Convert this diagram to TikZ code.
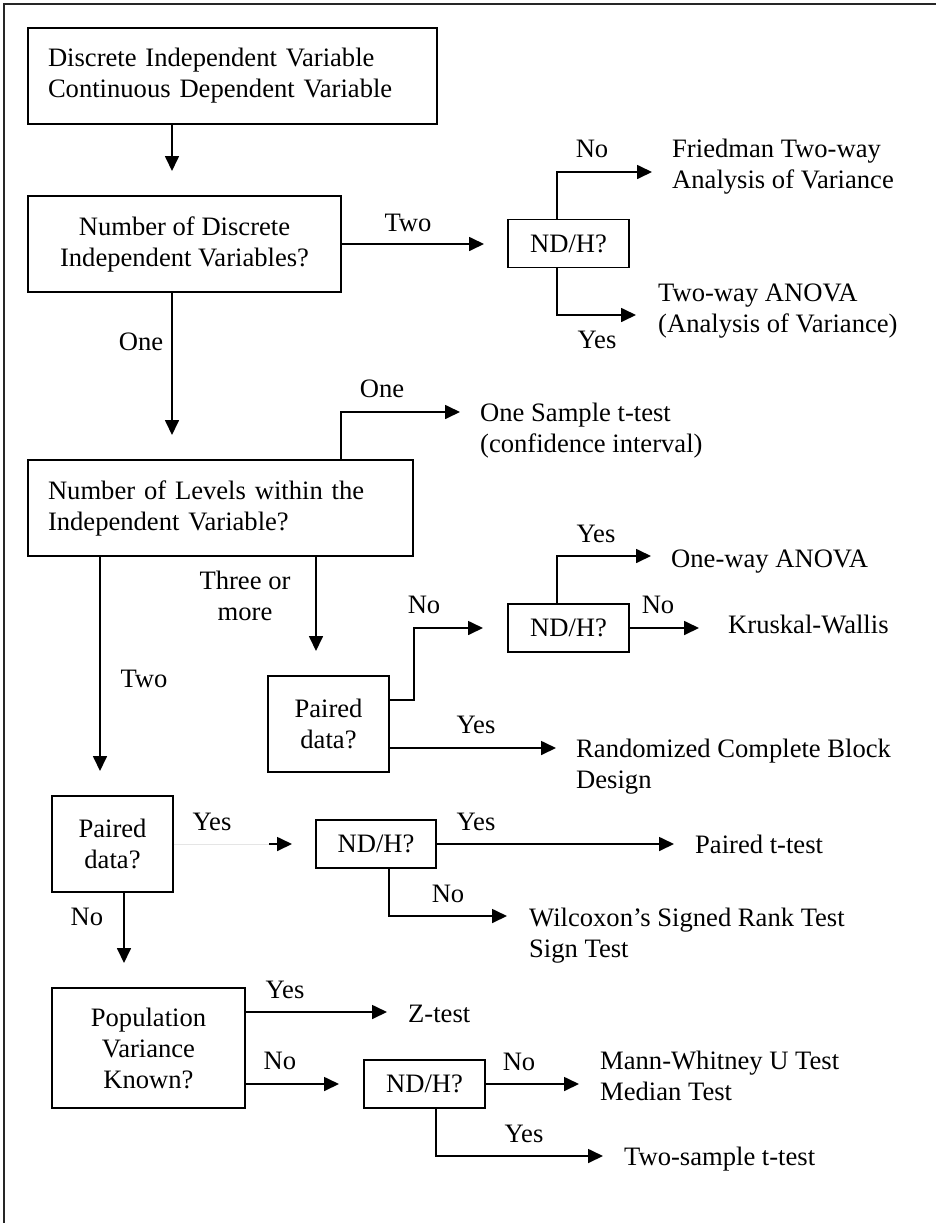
\documentclass[tikz,border=0pt]{standalone}
\usepackage{fontspec}
\setmainfont{Liberation Serif}
\usetikzlibrary{arrows.meta}

\begin{document}
\begin{tikzpicture}[
    x=1pt, y=-1pt,
    every node/.style={font=\fontsize{26.6pt}{31pt}\selectfont, inner sep=0pt},
    box/.style={draw, line width=1.8pt, align=center},
    leftbox/.style={draw, line width=1.8pt, align=left, inner xsep=20pt},
    ndh/.style={draw, line width=1.8pt, minimum width=121pt, minimum height=48pt},
    % multi-line texts are placed by the baseline of their last line
    result/.style={anchor=base west, align=left},
    lbl/.style={anchor=base, align=center},
    arr/.style={line width=1.7pt, -{Triangle[length=15pt,width=14pt]}},
    faint/.style={line width=0.8pt, draw=black!10},
  ]
  \useasboundingbox (0,0) rectangle (936,1223);

  % frame (top and left edges only)
  \draw[line width=2pt, black!85] (4,1223) -- (4,4) -- (936,4);

  % decision boxes
  \node[leftbox, text width=369pt, minimum height=96pt] (start) at (232.5,76)
    {Discrete Independent Variable\\Continuous Dependent Variable};
  \node[box, minimum width=313pt, minimum height=96pt] (q1) at (184.5,244)
    {Number of Discrete\\Independent Variables?};
  \node[ndh] (nd1) at (568.5,243.5) {ND/H?};
  \node[leftbox, text width=345pt, minimum height=96pt] (q2) at (220.5,508)
    {Number of Levels within the\\Independent Variable?};
  \node[box, minimum width=121pt, minimum height=96pt] (p1) at (328.5,724)
    {Paired\\data?};
  \node[ndh] (nd2) at (568.5,628) {ND/H?};
  \node[box, minimum width=121pt, minimum height=96pt] (p2) at (112.5,844)
    {Paired\\data?};
  \node[ndh, minimum width=120pt] (nd3) at (376,844) {ND/H?};
  \node[box, minimum width=193pt, minimum height=120pt] (pop) at (148.5,1048)
    {Population\\Variance\\Known?};
  \node[ndh] (nd4) at (424.5,1084) {ND/H?};

  % outcomes
  \node[result] (fried) at (672,188) {Friedman Two-way\\Analysis of Variance};
  \node[result] (anova2) at (658,332) {Two-way ANOVA\\(Analysis of Variance)};
  \node[result] (onet) at (480,452) {One Sample t-test\\(confidence interval)};
  \node[result] (anova1) at (671,567) {One-way ANOVA};
  \node[result] (kw) at (728,633) {Kruskal-Wallis};
  \node[result] (rcbd) at (576,788) {Randomized Complete Block\\Design};
  \node[result] (pairedt) at (695,853) {Paired t-test};
  \node[result] (wsr) at (529,957) {Wilcoxon’s Signed Rank Test\\Sign Test};
  \node[result] (ztest) at (408,1022) {Z-test};
  \node[result] (mw) at (600,1100) {Mann-Whitney U Test\\Median Test};
  \node[result] (twot) at (624,1165) {Two-sample t-test};

  % arrow tips and bends
  \coordinate (tQ1) at (172,171);
  \coordinate (tNd1) at (484,244);
  \coordinate (tFried) at (652,172);
  \coordinate (tAnova2) at (636,315);
  \coordinate (tQ2) at (172,435);
  \coordinate (tOneT) at (460,412);
  \coordinate (tP1) at (316,651);
  \coordinate (tP2) at (100,771);
  \coordinate (tNd2) at (483,628);
  \coordinate (tAnova1) at (651,556);
  \coordinate (tKW) at (699,628);
  \coordinate (tRCBD) at (556,748);
  \coordinate (fadeEnd) at (269,844);
  \coordinate (tNd3) at (292,844);
  \coordinate (tPairedT) at (674,844);
  \coordinate (tWSR) at (507,916);
  \coordinate (tPop) at (124,963);
  \coordinate (tZ) at (387,1012);
  \coordinate (tNd4) at (339,1084);
  \coordinate (tMW) at (579,1084);
  \coordinate (tTwoT) at (603,1156);

  % connectors
  \draw[arr] (start.south -| tQ1) -- (tQ1);
  \draw[arr] (q1.east) -- (tNd1);
  \draw[arr] ([xshift=-11.5pt]nd1.north) |- (tFried);
  \draw[arr] ([xshift=-11.5pt]nd1.south) |- (tAnova2);
  \draw[arr] (q1.south -| tQ2) -- (tQ2);
  \draw[arr] ([xshift=120.5pt]q2.north) |- (tOneT);
  \draw[arr] (q2.south -| tP1) -- (tP1);
  \draw[arr] (q2.south -| tP2) -- (tP2);
  \draw[arr] ([yshift=24pt]p1.east) -- ++(24,0) |- (tNd2);
  \draw[arr] ([xshift=-11.5pt]nd2.north) |- (tAnova1);
  \draw[arr] (nd2.east) -- (tKW);
  \draw[arr] ([yshift=-24pt]p1.east) -- (tRCBD);
  \draw[faint] (p2.east) -- (fadeEnd);
  \draw[arr] (fadeEnd) -- (tNd3);
  \draw[arr] (nd3.east) -- (tPairedT);
  \draw[arr] ([xshift=13pt]nd3.south) |- (tWSR);
  \draw[arr] (p2.south -| tPop) -- (tPop);
  \draw[arr] ([yshift=36pt]pop.east) -- (tZ);
  \draw[arr] ([yshift=-36pt]pop.east) -- (tNd4);
  \draw[arr] (nd4.east) -- (tMW);
  \draw[arr] ([xshift=11.5pt]nd4.south) |- (tTwoT);

  % branch labels
  \node[lbl] (l1) at (408,231) {Two};
  \node[lbl] (l2) at (592,157) {No};
  \node[lbl] (l3) at (597,348) {Yes};
  \node[lbl] (l4) at (141,350) {One};
  \node[lbl] (l5) at (382,397) {One};
  \node[lbl] (l6) at (245,620) {Three or\\more};
  \node[lbl] (l7) at (144,687) {Two};
  \node[lbl] (l8) at (424,613) {No};
  \node[lbl] (l9) at (596,542) {Yes};
  \node[lbl] (l10) at (658,613) {No};
  \node[lbl] (l11) at (476,733) {Yes};
  \node[lbl] (l12) at (212,830) {Yes};
  \node[lbl] (l13) at (87,925) {No};
  \node[lbl] (l14) at (476,830) {Yes};
  \node[lbl] (l15) at (448,902) {No};
  \node[lbl] (l16) at (285,998) {Yes};
  \node[lbl] (l17) at (280,1069) {No};
  \node[lbl] (l18) at (519,1070) {No};
  \node[lbl] (l19) at (524,1142) {Yes};
\end{tikzpicture}
\end{document}
